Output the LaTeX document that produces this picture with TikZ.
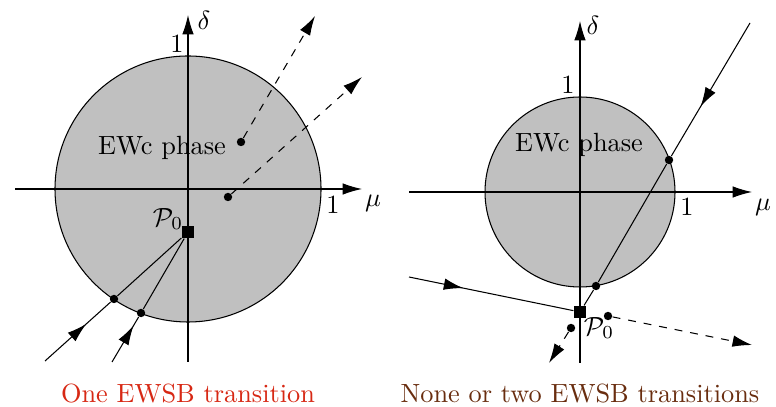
\documentclass[tikz,border=0pt]{standalone}
\usetikzlibrary{arrows.meta,decorations.markings}
\definecolor{phasegray}{RGB}{192,192,192}
\definecolor{capred}{RGB}{215,40,20}
\definecolor{capbrown}{RGB}{105,45,15}

\begin{document}
\begin{tikzpicture}[x=0.38pt,y=-0.38pt,
  axis/.style={-{Latex[length=7.4pt,width=4.4pt]}},
  flow/.style={dashed,-{Latex[length=7.4pt,width=4.4pt]}},
  midarrow/.style={postaction={decorate},decoration={markings,
      mark=at position #1 with {\arrow{Latex[length=7.4pt,width=4.4pt]}}}},
  dot/.style={circle,fill,inner sep=0pt,minimum size=3.2pt},
  origin/.style={rectangle,fill,inner sep=0pt,minimum size=4.6pt},
  phase/.style={draw,fill=phasegray},
  caption/.style={anchor=base,inner sep=0pt}
]
\useasboundingbox (0,0) rectangle (776,407);

% Left panel -- one transition
\draw[phase] (188,189) circle (133);
\coordinate (lxs) at (15,189);  \coordinate (lxe) at (362,189);
\coordinate (lys) at (188,362); \coordinate (lye) at (188,15);
\draw[axis] (lxs) -- (lxe);
\draw[axis] (lys) -- (lye);
\node (lone1) at (177,44) {$1$};
\node (ldelta) at (204,20) {$\delta$};
\node (lone2) at (333,205) {$1$};
\node (lmu) at (373,203) {$\mu$};
\node (lewc) at (162,148) {EWc phase};

\node[origin] (lP) at (188,232) {};
\node (lPlab) at (168,219) {$\mathcal{P}_0$};

\node[dot] (la) at (241,142) {};
\node[dot] (lb) at (228,197) {};
\coordinate (lae) at (315,16);
\coordinate (lbe) at (362,77);
\draw[flow] (la) -- (lae);
\draw[flow] (lb) -- (lbe);

\node[dot] (lc) at (114,299) {};
\node[dot] (ld) at (141,313) {};
\coordinate (lcs) at (45,361);
\coordinate (lds) at (112,362);
\draw (lP) -- (lc);
\draw (lP) -- (ld);
\draw[midarrow=0.63] (lcs) -- (lc);
\draw[midarrow=0.81] (lds) -- (ld);

\node[caption,text=capred] (lcap) at (188,403) {One EWSB transition};

% Right panel -- none or two transitions
\draw[phase] (580,192) circle (95);
\coordinate (rxs) at (409,192); \coordinate (rxe) at (752,192);
\coordinate (rys) at (580,363); \coordinate (rye) at (580,21);
\draw[axis] (rxs) -- (rxe);
\draw[axis] (rys) -- (rye);
\node (rone1) at (568,85) {$1$};
\node (rdelta) at (593,25) {$\delta$};
\node (rone2) at (687,207) {$1$};
\node (rmu) at (763,207) {$\mu$};
\node (rewc) at (579,145) {EWc phase};

\node[origin] (rP) at (580,312) {};
\node (rPlab) at (599,328) {$\mathcal{P}_0$};

\coordinate (rts) at (750,23);
\node[dot] (ra) at (669,160) {};
\node[dot] (rb) at (596,286) {};
\draw[midarrow=0.63] (rts) -- (ra);
\draw (ra) -- (rb);
\draw (rb) -- (rP);

\coordinate (rls) at (409,277);
\draw[midarrow=0.33] (rls) -- (rP);

\node[dot] (rc) at (608,316) {};
\node[dot] (rd) at (571,328) {};
\coordinate (rce) at (752,345);
\coordinate (rde) at (549,363);
\draw[flow] (rc) -- (rce);
\draw[flow] (rd) -- (rde);

\node[caption,text=capbrown] (rcap) at (580,403) {None or two EWSB transitions};
\end{tikzpicture}
\end{document}
